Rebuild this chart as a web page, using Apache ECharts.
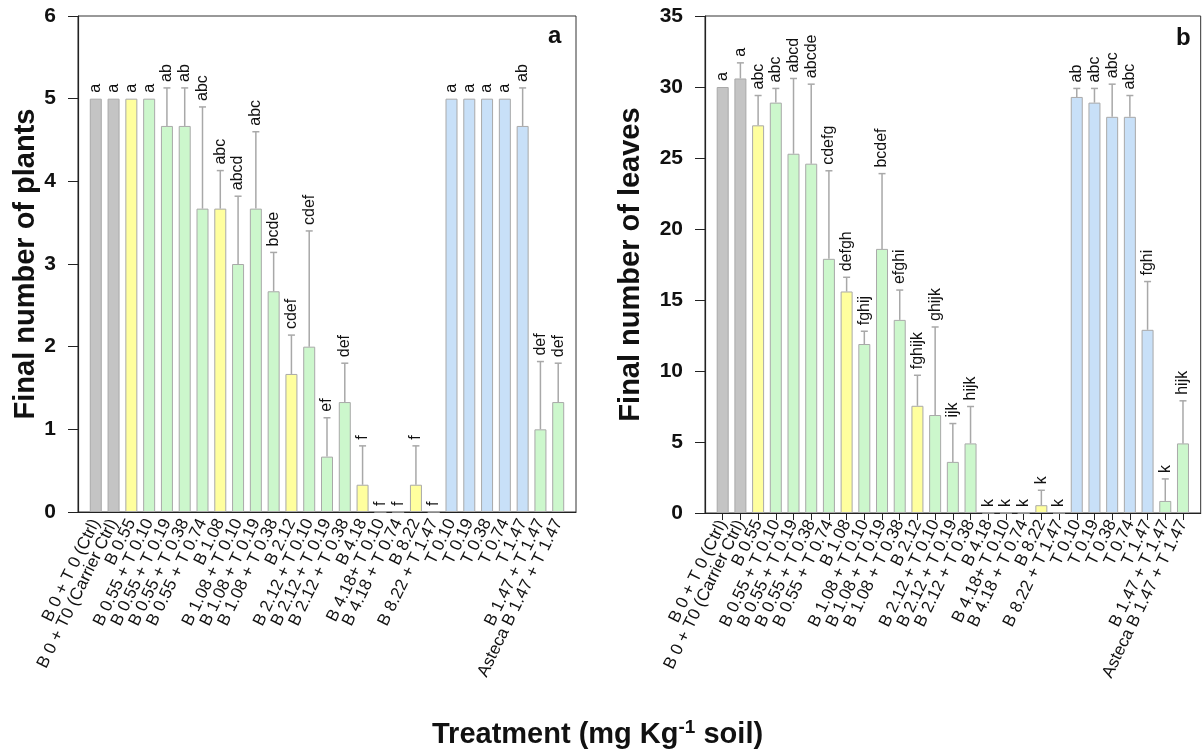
<!DOCTYPE html>
<html>
<head>
<meta charset="utf-8">
<script src="https://cdn.jsdelivr.net/npm/echarts@6/dist/echarts.min.js"></script>
<style>
html,body{margin:0;padding:0;background:#fff;}
#chart{width:1202px;height:751px;}
</style>
</head>
<body>
<div id="chart"></div>
<script>
const categories = [
  'B 0 + T 0 (Ctrl)', 'B 0 + T0 (Carrier Ctrl)', 'B 0.55', 'B 0.55 + T 0.10', 'B 0.55 + T 0.19',
  'B 0.55 + T 0.38', 'B 0.55 + T 0.74', 'B 1.08', 'B 1.08 + T 0.10', 'B 1.08 + T 0.19',
  'B 1.08 + T 0.38', 'B 2.12', 'B 2.12 + T 0.10', 'B 2.12 + T 0.19', 'B 2.12 + T 0.38',
  'B 4.18', 'B 4.18+ T 0.10', 'B 4.18 + T 0.74', 'B 8.22', 'B 8.22 + T 1.47',
  'T 0.10', 'T 0.19', 'T 0.38', 'T 0.74', 'T 1.47', 'B 1.47 + T 1.47', 'Asteca B 1.47 + T 1.47'
];
const groups = [
  'ctrl','ctrl','B','BT','BT','BT','BT','B','BT','BT','BT','B','BT','BT','BT',
  'B','BT','BT','B','BT','T','T','T','T','T','BT','BT'
];
const plantsMean = [5,5,5,5,4.67,4.67,3.67,3.67,3.0,3.67,2.67,1.67,2.0,0.67,1.33,0.33,0,0,0.33,0,5,5,5,5,4.67,1.0,1.33];
const plantsErr  = [0,0,0,0,0.46,0.46,1.23,0.46,0.82,0.93,0.47,0.47,1.4,0.47,0.47,0.47,0,0,0.47,0,0,0,0,0,0.46,0.82,0.47];
const plantsLetters = ['a','a','a','a','ab','ab','abc','abc','abcd','abc','bcde','cdef','cdef','ef','def','f','f','f','f','f','a','a','a','a','ab','def','def'];
const leavesMean = [30.0,30.6,27.3,28.9,25.3,24.6,17.9,15.6,11.9,18.6,13.6,7.55,6.9,3.6,4.9,0,0,0,0.55,0,29.3,28.9,27.9,27.9,12.9,0.85,4.9];
const leavesErr  = [0,1.1,2.1,1.0,5.3,5.6,6.2,1.0,0.9,5.3,2.1,2.15,6.2,2.7,2.6,0,0,0,1.05,0,0.6,1.0,2.3,1.5,3.4,1.55,3.0];
const leavesLetters = ['a','a','abc','abc','abcd','abcde','cdefg','defgh','fghij','bcdef','efghi','fghijk','ghijk','ijk','hijk','k','k','k','k','k','ab','abc','abc','abc','fghi','k','hijk'];
const plantsTicks = {min:0, max:6, interval:1};
const leavesTicks = {min:0, max:35, interval:5};

const groupColors = {ctrl:'#c4c4c4', B:'#ffff9e', BT:'#ccf7cc', T:'#c8e0f8'};
const padded = [''].concat(categories, ['']);
const FONT = 'Liberation Sans, Arial, sans-serif';

function barData(means){
  return [null].concat(means.map((v,i)=>({value:v, itemStyle:{color:groupColors[groups[i]]}})), [null]);
}
function errData(means, errs){
  return means.map((v,i)=>[i+1, v, errs[i]]);
}
function makeRender(letters){
  return function(params, api){
    const idx = api.value(0), m = api.value(1), e = api.value(2);
    const base = api.coord([idx, m]);
    const top = api.coord([idx, m + e]);
    const children = [];
    if (e > 0) {
      children.push({type:'line', shape:{x1:base[0], y1:base[1], x2:top[0], y2:top[1]}, style:{stroke:'#a8a8a8', lineWidth:1.5}});
      children.push({type:'line', shape:{x1:top[0]-3.5, y1:top[1], x2:top[0]+3.5, y2:top[1]}, style:{stroke:'#a8a8a8', lineWidth:1.5}});
    }
    children.push({type:'text', x: top[0], y: top[1] - 6, rotation: Math.PI/2,
      style:{text: letters[params.dataIndex], align:'left', verticalAlign:'middle', fontSize:16, fontFamily:FONT, fill:'#111'}});
    return {type:'group', children};
  };
}
function xAxisCfg(gi, showTicks){
  return {
    type:'category', gridIndex:gi, data:padded, boundaryGap:false,
    axisLine:{show:true, lineStyle:{color:'#222', width:1.2}},
    axisTick:{show:showTicks, length:7, lineStyle:{color:'#222'}, interval:function(i){return i>0 && i<padded.length-1;}},
    axisLabel:{interval:0, rotate:64, fontSize:17, fontFamily:FONT, color:'#111', margin:8},
    splitLine:{show:false}
  };
}
function yAxisCfg(gi, t, name, gap){
  return {
    type:'value', gridIndex:gi, min:t.min, max:t.max, interval:t.interval,
    name:name, nameLocation:'middle', nameGap:gap,
    nameTextStyle:{fontSize:29, fontWeight:'bold', fontFamily:FONT, color:'#111'},
    axisLine:{show:true, lineStyle:{color:'#222', width:1.2}},
    axisTick:{show:true, length:10, lineStyle:{color:'#222'}},
    axisLabel:{fontSize:21, fontWeight:'bold', fontFamily:FONT, color:'#111', margin:22},
    splitLine:{show:false}
  };
}

const chart = echarts.init(document.getElementById('chart'), null, {renderer:'canvas'});
chart.setOption({
  backgroundColor:'#fff',
  animation:false,
  grid:[
    {left:78, top:16, width:498, height:496, show:true, borderColor:'#333', borderWidth:1},
    {left:705, top:16, width:498, height:497, show:true, borderColor:'#333', borderWidth:1}
  ],
  xAxis:[xAxisCfg(0,false), xAxisCfg(1,true)],
  yAxis:[yAxisCfg(0, plantsTicks, 'Final number of plants', 38), yAxisCfg(1, leavesTicks, 'Final number of leaves', 60)],
  series:[
    {type:'bar', xAxisIndex:0, yAxisIndex:0, data:barData(plantsMean), barWidth:12,
      itemStyle:{borderColor:'#a9a9a9', borderWidth:1}},
    {type:'custom', xAxisIndex:0, yAxisIndex:0, data:errData(plantsMean, plantsErr), renderItem:makeRender(plantsLetters), z:5},
    {type:'bar', xAxisIndex:1, yAxisIndex:1, data:barData(leavesMean), barWidth:12,
      itemStyle:{borderColor:'#a9a9a9', borderWidth:1}},
    {type:'custom', xAxisIndex:1, yAxisIndex:1, data:errData(leavesMean, leavesErr), renderItem:makeRender(leavesLetters), z:5}
  ],
  graphic:[
    {type:'text', left:548, top:24, style:{text:'a', fontSize:24, fontWeight:'bold', fontFamily:FONT, fill:'#111'}},
    {type:'text', left:1176, top:26, style:{text:'b', fontSize:24, fontWeight:'bold', fontFamily:FONT, fill:'#111'}},
    {type:'text', left:432, top:718, style:{
      text:'{t|Treatment (mg Kg}{s|-1}{t| soil)}',
      rich:{
        t:{fontSize:29, fontWeight:'bold', fontFamily:FONT, fill:'#111', verticalAlign:'bottom'},
        s:{fontSize:19, fontWeight:'bold', fontFamily:FONT, fill:'#111', verticalAlign:'top', padding:[0,0,12,0]}
      }}}
  ]
});
</script>
</body>
</html>
